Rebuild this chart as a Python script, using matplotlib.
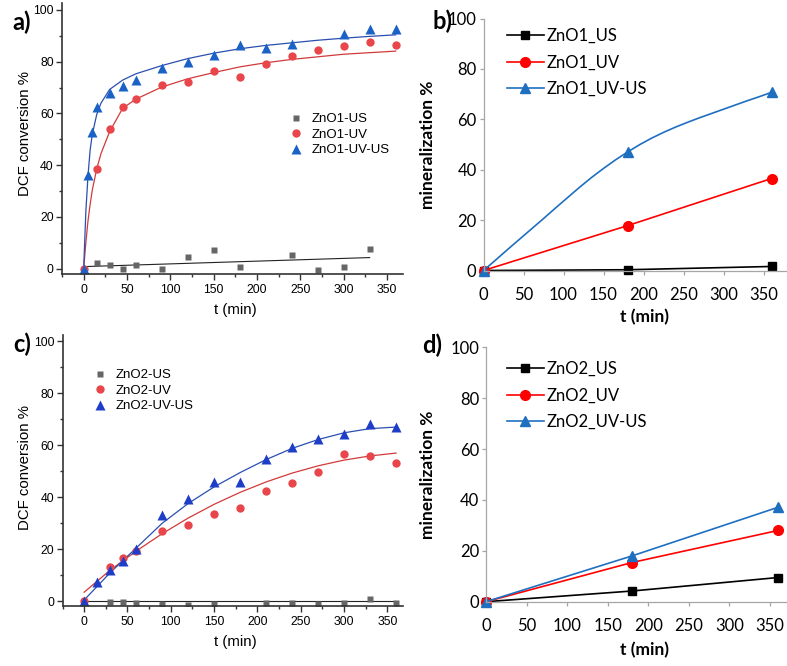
import numpy as np
import matplotlib
matplotlib.use('Agg')
import matplotlib.pyplot as plt
from matplotlib.ticker import MultipleLocator

# ---- panel a: ZnO1, DCF conversion ----
us1_t = [0, 15, 30, 45, 60, 90, 120, 150, 180, 240, 270, 300, 330]
us1_y = [0, 2.1, 1.3, -0.3, 1.4, 0.0, 4.6, 7.2, 0.8, 5.4, -0.5, 0.6, 7.5]
uv1_t = [0, 15, 30, 45, 60, 90, 120, 150, 180, 210, 240, 270, 300, 330, 360]
uv1_y = [0, 38.5, 53.9, 62.6, 65.5, 70.9, 72.3, 76.3, 74.0, 79.1, 82.2, 84.6, 86.0, 87.6, 86.6]
uvus1_t = [0, 5, 10, 15, 30, 45, 60, 90, 120, 150, 180, 210, 240, 300, 330, 360]
uvus1_y = [0, 36.2, 52.8, 62.4, 68.0, 70.6, 72.9, 77.5, 79.8, 82.7, 86.5, 85.2, 86.9, 90.6, 92.8, 92.5]

# fitted curves
fit1_t = [0, 2.5, 5, 7.5, 10, 15, 20, 30, 45, 60, 90, 120, 150, 180, 210, 240, 270, 300, 330, 360]
fit_uv1 = [0, 10, 18.5, 25, 30.5, 38.5, 44.5, 53, 62, 65.5, 70.2, 73.4, 75.8, 78, 79.6, 80.9, 81.9, 82.9, 83.5, 84.1]
fit_uvus1 = [0, 22, 36, 46, 52, 59.5, 64, 69.3, 72.9, 75.3, 78.5, 81.2, 83.3, 85, 86.3, 87.3, 88.3, 89.1, 89.8, 90.4]
fit_us1_t = [0, 330]
fit_us1 = [0.8, 4.3]

# ---- panel c: ZnO2, DCF conversion ----
us2_t = [0, 30, 45, 60, 90, 120, 150, 210, 240, 270, 300, 330, 360]
us2_y = [0, -0.3, -0.4, -0.8, -1.0, -1.3, -1.0, -0.8, -0.8, -1.1, -0.6, 0.8, -0.6]
uv2_t = [0, 30, 45, 60, 90, 120, 150, 180, 210, 240, 270, 300, 330, 360]
uv2_y = [0, 13.3, 16.5, 19.4, 27.0, 29.4, 33.5, 35.9, 42.3, 45.6, 49.9, 56.5, 55.9, 53.3]
uvus2_t = [0, 15, 30, 45, 60, 90, 120, 150, 180, 210, 240, 270, 300, 330, 360]
uvus2_y = [0, 7.6, 12.0, 15.6, 20.0, 33.0, 39.5, 45.8, 45.9, 54.7, 59.5, 62.4, 64.5, 68.3, 67.0]

fit2_t = [0, 30, 60, 90, 120, 150, 180, 210, 240, 270, 300, 330, 360]
fit_uv2 = [3.5, 12.0, 19.3, 26.0, 32.0, 37.3, 41.9, 45.9, 49.3, 52.1, 54.3, 55.9, 57.0]
fit_uvus2 = [0.5, 11.0, 20.5, 30.0, 37.6, 44.0, 49.5, 54.5, 58.8, 62.2, 64.8, 66.4, 67.0]
fit_us2_t = [0, 360]
fit_us2 = [0.1, 0.1]

# ---- panels b, d: mineralization ----
min_t = [0, 180, 360]
b_us = [0, 0.3, 1.6]
b_uv = [0, 17.8, 36.5]
b_uvus = [0, 47.0, 70.7]
# smoothed excel line for ZnO1_UV-US
b_smooth_t = [0, 15, 30, 45, 60, 75, 90, 105, 120, 135, 150, 165, 180,
              195, 210, 225, 240, 255, 270, 285, 300, 315, 330, 345, 360]
b_smooth_y = [0, 4.1, 8.3, 12.4, 16.5, 20.6, 24.8, 28.9, 33.0, 36.9, 40.5, 43.9, 47.0,
              49.9, 52.5, 54.8, 56.9, 58.8, 60.6, 62.3, 64.0, 65.7, 67.4, 69.0, 70.7]
d_us = [0, 4.2, 9.5]
d_uv = [0, 15.4, 28.0]
d_uvus = [0, 18.0, 37.1]

W, H = 787, 666
fig = plt.figure(figsize=(W / 100, H / 100), dpi=100)

def px_axes(l, t, r, b):
    return fig.add_axes([l / W, 1 - b / H, (r - l) / W, (b - t) / H])

ORIGIN_FONT = 'Liberation Sans'
EXCEL_FONT = 'Lato'
gray = '#666666'
red = '#e8464a'
blue_a = '#1a62c6'
blue_c = '#1f3ec8'

def origin_style(ax):
    for s in ['top', 'right']:
        ax.spines[s].set_visible(False)
    for s in ['left', 'bottom']:
        ax.spines[s].set_color('#333333')
        ax.spines[s].set_linewidth(1.2)
    ax.set_xlim(-25, 368)
    ax.xaxis.set_major_locator(MultipleLocator(50))
    ax.xaxis.set_minor_locator(MultipleLocator(25))
    ax.yaxis.set_major_locator(MultipleLocator(20))
    ax.yaxis.set_minor_locator(MultipleLocator(10))
    ax.tick_params(which='major', direction='out', length=4, width=1, color='#333333', pad=2, labelsize=8.8)
    ax.tick_params(axis='x', pad=3.5)
    ax.tick_params(which='minor', direction='out', length=2.5, width=1, color='#333333')
    for lab in ax.get_xticklabels() + ax.get_yticklabels():
        lab.set_fontfamily(ORIGIN_FONT)

def excel_style(ax):
    for s in ['top', 'right']:
        ax.spines[s].set_visible(False)
    for s in ['left', 'bottom']:
        ax.spines[s].set_color('#a6a6a6')
        ax.spines[s].set_linewidth(0.9)
    ax.set_xlim(0, 400)
    ax.set_ylim(0, 100)
    ax.set_xticks(np.arange(0, 351, 50))
    ax.set_yticks(np.arange(0, 101, 20))
    ax.tick_params(axis='x', direction='out', length=3, width=0.9, color='#a6a6a6', pad=9, labelsize=12)
    ax.tick_params(axis='y', direction='out', length=3, width=0.9, color='#a6a6a6', pad=2, labelsize=12)
    for lab in ax.get_xticklabels() + ax.get_yticklabels():
        lab.set_fontfamily(EXCEL_FONT)
    ax.patch.set_alpha(0)

# panel a
ax_a = px_axes(62, 3, 402.6, 274)
ax_a.plot(fit_us1_t, fit_us1, color='#222222', lw=0.8)
ax_a.plot(fit1_t, fit_uv1, color='#d23a3a', lw=0.9)
ax_a.plot(fit1_t, fit_uvus1, color='#2a4fb0', lw=0.9)
ax_a.plot(us1_t, us1_y, 's', color=gray, ms=5, mec='none', label='ZnO1-US')
ax_a.plot(uv1_t, uv1_y, 'o', color=red, ms=6, mec='none', label='ZnO1-UV')
ax_a.plot(uvus1_t, uvus1_y, '^', color=blue_a, ms=6.5, mec='none', label='ZnO1-UV-US')
ax_a.set_ylim(-2.05, 102.7)
origin_style(ax_a)
ax_a.legend(loc='upper left', bbox_to_anchor=(289 / W, 1 - 113 / H), bbox_transform=fig.transFigure,
            frameon=False, handlelength=1.0, handletextpad=0.7, labelspacing=0.25, borderpad=0,
            borderaxespad=0, prop={'family': ORIGIN_FONT, 'size': 9.5})

# panel c
ax_c = px_axes(62.5, 335, 403, 606)
ax_c.plot(fit_us2_t, fit_us2, color='#222222', lw=0.8)
ax_c.plot(fit2_t, fit_uv2, color='#d23a3a', lw=0.9)
ax_c.plot(fit2_t, fit_uvus2, color='#2a4fb0', lw=0.9)
ax_c.plot(us2_t, us2_y, 's', color=gray, ms=5, mec='none', label='ZnO2-US')
ax_c.plot(uv2_t, uv2_y, 'o', color=red, ms=6, mec='none', label='ZnO2-UV')
ax_c.plot(uvus2_t, uvus2_y, '^', color=blue_c, ms=6.5, mec='none', label='ZnO2-UV-US')
ax_c.set_ylim(-1.8, 102.4)
origin_style(ax_c)
ax_c.legend(loc='upper left', bbox_to_anchor=(93 / W, 1 - 369 / H), bbox_transform=fig.transFigure,
            frameon=False, handlelength=1.0, handletextpad=0.7, labelspacing=0.25, borderpad=0,
            borderaxespad=0, prop={'family': ORIGIN_FONT, 'size': 9.5})

# panel b
excel_blue = '#1f6fc0'
ax_b = px_axes(483.5, 18.5, 803.5, 270.5)
ax_b.plot(min_t, b_us, '-s', color='black', lw=1.2, ms=5.5, label='ZnO1_US', clip_on=False)
ax_b.plot(min_t, b_uv, '-o', color='#ff0000', lw=1.2, ms=7, label='ZnO1_UV', clip_on=False)
ax_b.plot(b_smooth_t, b_smooth_y, '-', color=excel_blue, lw=1.2)
ax_b.plot(min_t, b_uvus, '^', color=excel_blue, ms=7, clip_on=False)
ax_b.plot([], [], '-^', color=excel_blue, lw=1.2, ms=7, label='ZnO1_UV-US')
excel_style(ax_b)
ax_b.legend(loc='upper left', bbox_to_anchor=(507 / W, 1 - 28 / H), bbox_transform=fig.transFigure,
            frameon=False, handlelength=2.2, handletextpad=0.15, labelspacing=0.62, borderpad=0,
            borderaxespad=0, prop={'family': EXCEL_FONT, 'size': 12})

# panel d
ax_d = px_axes(486, 347.3, 810.4, 601.7)
ax_d.plot(min_t, d_us, '-s', color='black', lw=1.2, ms=5.5, label='ZnO2_US', clip_on=False)
ax_d.plot(min_t, d_uv, '-o', color='#ff0000', lw=1.2, ms=7, label='ZnO2_UV', clip_on=False)
ax_d.plot(min_t, d_uvus, '-^', color=excel_blue, lw=1.2, ms=7, label='ZnO2_UV-US', clip_on=False)
excel_style(ax_d)
ax_d.legend(loc='upper left', bbox_to_anchor=(507 / W, 1 - 361 / H), bbox_transform=fig.transFigure,
            frameon=False, handlelength=2.2, handletextpad=0.15, labelspacing=0.62, borderpad=0,
            borderaxespad=0, prop={'family': EXCEL_FONT, 'size': 12})

# axis labels
def ftext(x, y, s, **kw):
    fig.text(x / W, 1 - y / H, s, ha='center', va='center', **kw)

ftext(25, 133, 'DCF conversion %', rotation=90, family=ORIGIN_FONT, size=10.8)
ftext(25, 467, 'DCF conversion %', rotation=90, family=ORIGIN_FONT, size=10.8)
ftext(235, 310, 't (min)', family=ORIGIN_FONT, size=10.8)
ftext(235, 642, 't (min)', family=ORIGIN_FONT, size=10.8)
ftext(428, 145, 'mineralization %', rotation=90, family=EXCEL_FONT, size=12.5, weight='bold')
ftext(428, 475, 'mineralization %', rotation=90, family=EXCEL_FONT, size=12.5, weight='bold')
ftext(645, 317, 't (min)', family=EXCEL_FONT, size=12.5, weight='bold')
ftext(645, 650, 't (min)', family=EXCEL_FONT, size=12.5, weight='bold')

# panel letters
ftext(22, 22, 'a)', family=EXCEL_FONT, size=17, weight='bold')
ftext(443, 21, 'b)', family=EXCEL_FONT, size=17, weight='bold')
ftext(22, 344, 'c)', family=EXCEL_FONT, size=17, weight='bold')
ftext(432, 345, 'd)', family=EXCEL_FONT, size=17, weight='bold')

fig.savefig('out.png', dpi=100)
